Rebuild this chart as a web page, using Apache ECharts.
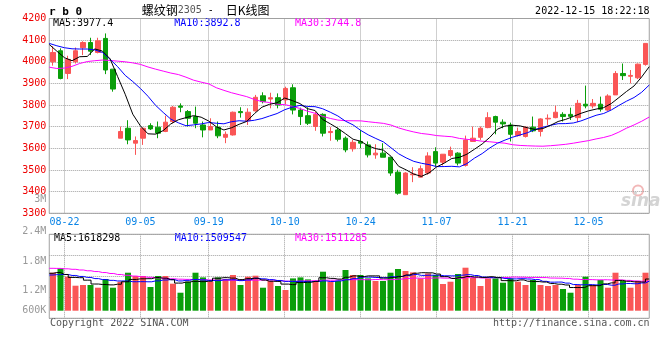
<!DOCTYPE html>
<html><head><meta charset="utf-8">
<script src="https://cdn.jsdelivr.net/npm/echarts@6/dist/echarts.min.js"></script>
<style>html,body{margin:0;padding:0;background:#fff}#c{width:660px;height:360px}</style>
</head><body><div id="c"></div>
<script>
// ---------- data ----------
const symbolCode = 'r b 0';
const titleName = '螺纹钢';
const titleContract = '2305';
const titleSep = ' -  ';
const titleKind = '日K线图';
const timeStamp = '2022-12-15 18:22:18';
const copyrightText = 'Copyright 2022 SINA.COM';
const urlText = 'http://finance.sina.com.cn';

const dates = ['08-18','08-19','08-22','08-23','08-24','08-25','08-26','08-29','08-30','08-31',
'09-01','09-02','09-05','09-06','09-07','09-08','09-09','09-13','09-14','09-15',
'09-16','09-19','09-20','09-21','09-22','09-23','09-26','09-27','09-28','09-29',
'09-30','10-10','10-11','10-12','10-13','10-14','10-17','10-18','10-19','10-20',
'10-21','10-24','10-25','10-26','10-27','10-28','10-31','11-01','11-02','11-03',
'11-04','11-07','11-08','11-09','11-10','11-11','11-14','11-15','11-16','11-17',
'11-18','11-21','11-22','11-23','11-24','11-25','11-28','11-29','11-30','12-01',
'12-02','12-05','12-06','12-07','12-08','12-09','12-12','12-13','12-14','12-15'];
const dateTicks = ['08-22','09-05','09-19','10-10','10-24','11-07','11-21','12-05'];

const opens = [4000,4051,3946,4000,4065,4089,4043,4108,3966,3647,
3693,3624,3647,3705,3698,3678,3724,3796,3770,3747,
3708,3685,3698,3651,3662,3770,3728,3773,3843,3828,
3834,3824,3880,3777,3751,3701,3757,3673,3685,3647,
3598,3632,3616,3570,3578,3559,3490,3386,3478,3467,
3486,3585,3536,3567,3578,3521,3632,3651,3696,3747,
3721,3708,3659,3655,3698,3678,3736,3742,3757,3757,
3742,3804,3796,3804,3777,3847,3946,3933,3926,3988];
const closes = [4043,3923,4011,4051,4089,4049,4097,3962,3874,3678,
3639,3636,3693,3690,3670,3721,3790,3790,3739,3716,
3685,3701,3658,3665,3767,3765,3767,3836,3816,3834,
3800,3877,3777,3747,3716,3757,3670,3678,3642,3593,
3628,3624,3570,3578,3559,3486,3393,3486,3482,3506,
3565,3532,3573,3590,3532,3639,3647,3693,3742,3721,
3713,3665,3678,3698,3681,3736,3739,3767,3747,3748,
3808,3796,3808,3781,3842,3946,3936,3937,3989,4085];
const lows = [3982,3919,3920,3992,4031,4031,4039,3943,3862,3647,
3619,3570,3616,3685,3647,3675,3716,3767,3701,3693,
3651,3685,3647,3624,3659,3742,3708,3770,3808,3785,
3785,3804,3757,3708,3708,3681,3655,3635,3632,3582,
3585,3601,3558,3552,3559,3473,3386,3386,3444,3466,
3478,3516,3521,3558,3521,3516,3632,3639,3693,3665,
3693,3632,3655,3650,3675,3655,3708,3739,3724,3731,
3721,3785,3785,3770,3773,3847,3916,3900,3920,3982];
const highs = [4072,4062,4028,4066,4095,4111,4111,4131,3966,3701,
3730,3655,3696,3716,3724,3751,3796,3808,3777,3793,
3724,3739,3724,3678,3770,3790,3785,3847,3859,3857,
3854,3885,3896,3788,3790,3770,3762,3698,3696,3655,
3639,3685,3632,3619,3624,3559,3501,3490,3513,3521,
3582,3605,3573,3608,3582,3659,3701,3701,3767,3751,
3734,3719,3696,3701,3747,3739,3757,3797,3767,3788,
3824,3890,3828,3839,3850,3957,3992,3962,3992,4085];

const ma5 = [4080,4049,4019,4005,4023.4,4024.6,4059.4,4049.6,4014.2,3932.0,
3850.0,3757.8,3704.0,3667.2,3665.6,3682.0,3712.8,3732.2,3742.0,3751.2,
3744.0,3726.2,3699.8,3685.0,3695.2,3711.2,3724.4,3760.0,3790.2,3803.6,
3810.6,3832.6,3820.8,3807.0,3783.4,3774.8,3733.4,3713.6,3692.6,3668.0,
3642.2,3633.0,3611.4,3598.6,3591.8,3563.4,3517.2,3500.4,3481.2,3470.6,
3486.4,3514.2,3531.6,3553.2,3558.4,3573.2,3596.2,3620.2,3650.6,3688.4,
3703.2,3706.8,3703.8,3695.0,3687.0,3691.6,3706.4,3724.2,3734.0,3747.4,
3761.8,3773.2,3781.4,3788.2,3807.0,3834.6,3862.6,3888.4,3930.0,3977.4];
const ma10 = [4085,4074,4065,4060,4059,4059,4055,4043,4012,3977.7,
3937.3,3908.6,3876.8,3840.7,3798.8,3766.0,3735.3,3718.1,3704.6,3708.4,
3713.0,3719.5,3716.0,3713.5,3723.2,3727.6,3725.3,3729.9,3737.6,3749.4,
3760.9,3778.5,3790.4,3798.6,3793.5,3792.7,3783.0,3767.2,3749.8,3725.7,
3708.5,3683.2,3662.5,3645.6,3629.9,3602.8,3575.1,3555.9,3539.9,3531.2,
3524.9,3515.7,3516.0,3517.2,3514.5,3529.8,3555.2,3575.9,3601.9,3623.4,
3638.2,3651.5,3662.0,3672.8,3687.7,3697.4,3706.6,3714.0,3714.5,3717.2,
3726.7,3739.8,3752.8,3761.1,3777.2,3798.2,3817.9,3834.9,3859.1,3892.8];
const ma30 = [3975,3969,3971,3979,3992,4001,4005,4008,4006,4003,
4000,3995,3988,3976,3966,3957,3948,3941,3929,3915,
3906,3898,3880,3868,3857,3848,3839,3826,3816,3811.8,
3803.7,3802.2,3794.4,3784.3,3771.8,3762.1,3747.9,3738.4,3730.7,3727.8,
3727.5,3727.1,3723.0,3719.2,3715.5,3707.7,3694.5,3684.3,3675.8,3668.8,
3664.8,3659.1,3656.3,3653.8,3646.0,3641.8,3637.8,3633.0,3630.5,3626.8,
3623.9,3616.8,3613.5,3611.9,3610.7,3610.0,3612.3,3615.3,3618.8,3623.9,
3629.9,3635.7,3643.6,3650.4,3659.8,3675.1,3693.2,3708.3,3725.2,3744.8];

const volumes = [1941000,2161000,1737000,1277000,1313000,1313000,1175000,1619000,1175000,1481000,
1941000,1773000,1773000,1211000,1773000,1773000,1379000,919000,1481000,1941000,
1701000,1481000,1701000,1619000,1824000,1313000,1737000,1788000,1175000,1517000,
1262000,1057000,1650000,1701000,1599000,1481000,1992000,1481000,1517000,2079000,
1824000,1824000,1650000,1517000,1517000,1941000,2130000,2028000,1956000,1650000,
1905000,1824000,1364000,1481000,1875000,2197000,1686000,1262000,1650000,1650000,
1430000,1650000,1481000,1313000,1568000,1313000,1262000,1313000,1108000,919000,
1313000,1737000,1313000,1568000,1175000,1941000,1517000,1175000,1517000,1941000];
const volMa5 = [1911000,1950000,1850000,1700000,1686000,1560000,1363000,1339000,1319000,1353000,
1478000,1598000,1629000,1636000,1694000,1661000,1582000,1411000,1465000,1499000,
1484000,1505000,1661000,1689000,1665000,1588000,1639000,1656000,1567000,1506000,
1496000,1360000,1332000,1437000,1454000,1498000,1685000,1651000,1614000,1710000,
1779000,1745000,1779000,1779000,1666000,1690000,1751000,1827000,1914000,1941000,
1934000,1873000,1740000,1645000,1690000,1748000,1721000,1700000,1734000,1689000,
1536000,1528000,1572000,1505000,1488000,1465000,1387000,1354000,1313000,1183000,
1183000,1278000,1278000,1370000,1421000,1547000,1503000,1475000,1465000,1618298];
const volMa10 = [1824000,1840000,1850000,1800000,1750000,1700000,1640000,1590000,1550000,1519000,
1519000,1480000,1484000,1477000,1523000,1569000,1590000,1520000,1550000,1596000,
1572000,1543000,1536000,1577000,1582000,1536000,1572000,1659000,1628000,1586000,
1542000,1499000,1494000,1502000,1480000,1497000,1522000,1492000,1526000,1582000,
1638000,1715000,1715000,1696000,1688000,1734000,1748000,1803000,1847000,1804000,
1812000,1812000,1783000,1780000,1815000,1841000,1797000,1720000,1689000,1689000,
1642000,1625000,1636000,1619000,1589000,1500000,1458000,1463000,1409000,1336000,
1324000,1333000,1316000,1341000,1302000,1365000,1390000,1377000,1418000,1509547];
const volMa30 = [2166000,2160000,2140000,2115000,2080000,2040000,2000000,1950000,1900000,1850000,
1810000,1770000,1735000,1705000,1680000,1655000,1630000,1610000,1600000,1590000,
1580000,1572000,1565000,1560000,1555000,1555000,1555000,1560000,1565000,1567000,
1544000,1508000,1505000,1519000,1528000,1534000,1561000,1557000,1568000,1588000,
1584000,1586000,1582000,1592000,1583000,1589000,1614000,1651000,1667000,1657000,
1664000,1675000,1664000,1659000,1661000,1691000,1689000,1671000,1687000,1692000,
1697000,1717000,1711000,1698000,1697000,1692000,1668000,1662000,1648000,1610000,
1593000,1590000,1578000,1580000,1569000,1569000,1548000,1520000,1505000,1511285];

const volTickLabels = ['3M','2.4M','1.8M','1.2M','600K'];

// ---------- styles / layout ----------
const RED = '#fa5656', GREEN = '#0a9e0a';
const MONO = '"DejaVu Sans Mono", "Liberation Mono", monospace';
const GRIDC = '#a0a0a0';
const GL = 49.25, GW = 600;
const MAIN = {top: 18.5, h: 194.8};
const VOL = {top: 234.3, h: 84};
const volLabelY = [199, 231.7, 261.7, 290.7, 310.7];
const dotted = {color: GRIDC, type: [1, 1], width: 1};
const isTick = (i, v) => dateTicks.indexOf(v) >= 0;

const chart = echarts.init(document.getElementById('c'), null, {renderer: 'canvas'});

const last = a => a[a.length - 1];
const fmt1 = v => v.toFixed(1);
const fmt0 = v => Math.round(v).toString();

const txt = (x, y, text, fill, extra) => ({
  type: 'text', x, y, silent: true,
  style: Object.assign({text, fill, font: '10px ' + MONO, textVerticalAlign: 'middle'}, extra || {})
});

const graphics = [
  txt(49, 12, symbolCode, '#000', {font: 'bold 11px ' + MONO}),
  {type: 'text', x: 141.7, y: 10.5, silent: true, style: {
    text: '{a|' + titleName + '}{b|' + titleContract + '}{c|' + titleSep + '}{a|' + titleKind + '}',
    textVerticalAlign: 'middle',
    rich: {
      a: {fontFamily: '"Noto Sans CJK SC", sans-serif', fontSize: 12, fill: '#000'},
      b: {fontFamily: MONO, fontSize: 10, fill: '#555'},
      c: {fontFamily: MONO, fontSize: 10, fill: '#000'}
    }
  }},
  txt(649.5, 11.5, timeStamp, '#000', {textAlign: 'right'}),
  txt(53, 23.7, 'MA5:' + fmt1(last(ma5)), '#000'),
  txt(174.3, 23.7, 'MA10:' + fmt1(last(ma10)), '#0000ff'),
  txt(295, 23.7, 'MA30:' + fmt1(last(ma30)), '#ff00ff'),
  txt(54, 238.6, 'MA5:' + fmt0(last(volMa5)), '#000'),
  txt(174.7, 238.6, 'MA10:' + fmt0(last(volMa10)), '#0000ff'),
  txt(295, 238.6, 'MA30:' + fmt0(last(volMa30)), '#ff00ff'),
  txt(50, 323.3, copyrightText, '#555'),
  txt(649.5, 323.3, urlText, '#555', {textAlign: 'right'}),
  {type: 'circle', shape: {cx: 638, cy: 190.5, r: 5}, silent: true,
   style: {fill: 'none', stroke: '#f2b8b8', lineWidth: 2}},
  {type: 'text', x: 621, y: 202, silent: true,
   style: {text: 'sina', fill: '#d4d4d4', font: 'italic bold 17px "DejaVu Sans", sans-serif', textVerticalAlign: 'middle'}}
].concat(volTickLabels.map((t, i) => txt(46.3, volLabelY[i], t, '#999', {textAlign: 'right'})));

const option = {
  animation: false,
  backgroundColor: '#fff',
  grid: [
    {left: GL, width: GW, top: MAIN.top, height: MAIN.h, show: true, borderColor: '#a0a0a0', borderWidth: 1},
    {left: GL, width: GW, top: VOL.top, height: VOL.h, show: true, borderColor: '#a0a0a0', borderWidth: 1}
  ],
  xAxis: [
    {type: 'category', gridIndex: 0, position: 'bottom', data: dates, boundaryGap: true, show: false},
    {type: 'category', gridIndex: 0, position: 'bottom', data: dates, boundaryGap: false,
     axisLine: {show: false}, axisTick: {show: false},
     axisLabel: {interval: isTick, color: '#0a84e6', fontFamily: MONO, fontSize: 10, margin: 4},
     splitLine: {show: true, interval: isTick, lineStyle: dotted}},
    {type: 'category', gridIndex: 1, position: 'bottom', data: dates, boundaryGap: true, show: false},
    {type: 'category', gridIndex: 1, position: 'bottom', data: dates, boundaryGap: false,
     axisLine: {show: false}, axisTick: {show: false}, axisLabel: {show: false},
     splitLine: {show: true, interval: isTick, lineStyle: dotted}}
  ],
  yAxis: [
    {type: 'value', gridIndex: 0, min: 3300, max: 4200, interval: 100,
     axisLine: {show: false}, axisTick: {show: false},
     axisLabel: {color: '#ee0000', fontFamily: MONO, fontSize: 10, margin: 3, padding: [0, 0, 3, 0],
                 formatter: v => String(v)},
     splitLine: {show: true, lineStyle: dotted}},
    {type: 'value', gridIndex: 1, min: -388000, max: 3903000, interval: 1072750,
     axisLine: {show: false}, axisTick: {show: false}, axisLabel: {show: false},
     splitLine: {show: true, lineStyle: dotted}}
  ],
  series: [
    {type: 'candlestick', xAxisIndex: 0, yAxisIndex: 0, barWidth: 5,
     data: dates.map((d, i) => [opens[i], closes[i], lows[i], highs[i]]),
     itemStyle: {color: RED, color0: GREEN, borderColor: RED, borderColor0: GREEN, borderWidth: 1}},
    {type: 'line', name: 'MA30', xAxisIndex: 1, yAxisIndex: 0, data: ma30, symbol: 'none',
     lineStyle: {color: '#ff00ff', width: 1}},
    {type: 'line', name: 'MA10', xAxisIndex: 1, yAxisIndex: 0, data: ma10, symbol: 'none',
     lineStyle: {color: '#0000ff', width: 1}},
    {type: 'line', name: 'MA5', xAxisIndex: 1, yAxisIndex: 0, data: ma5, symbol: 'none',
     lineStyle: {color: '#000000', width: 1}},
    {type: 'bar', xAxisIndex: 2, yAxisIndex: 1, barWidth: 6,
     data: volumes.map((v, i) => ({value: v, itemStyle: {color: closes[i] >= opens[i] ? RED : GREEN}}))},
    {type: 'line', xAxisIndex: 3, yAxisIndex: 1, data: volMa30, symbol: 'none', step: 'middle',
     lineStyle: {color: '#ff00ff', width: 1}},
    {type: 'line', xAxisIndex: 3, yAxisIndex: 1, data: volMa10, symbol: 'none', step: 'middle',
     lineStyle: {color: '#0000ff', width: 1}},
    {type: 'line', xAxisIndex: 3, yAxisIndex: 1, data: volMa5, symbol: 'none', step: 'middle',
     lineStyle: {color: '#000000', width: 1}}
  ],
  graphic: graphics
};
chart.setOption(option);
</script></body></html>
